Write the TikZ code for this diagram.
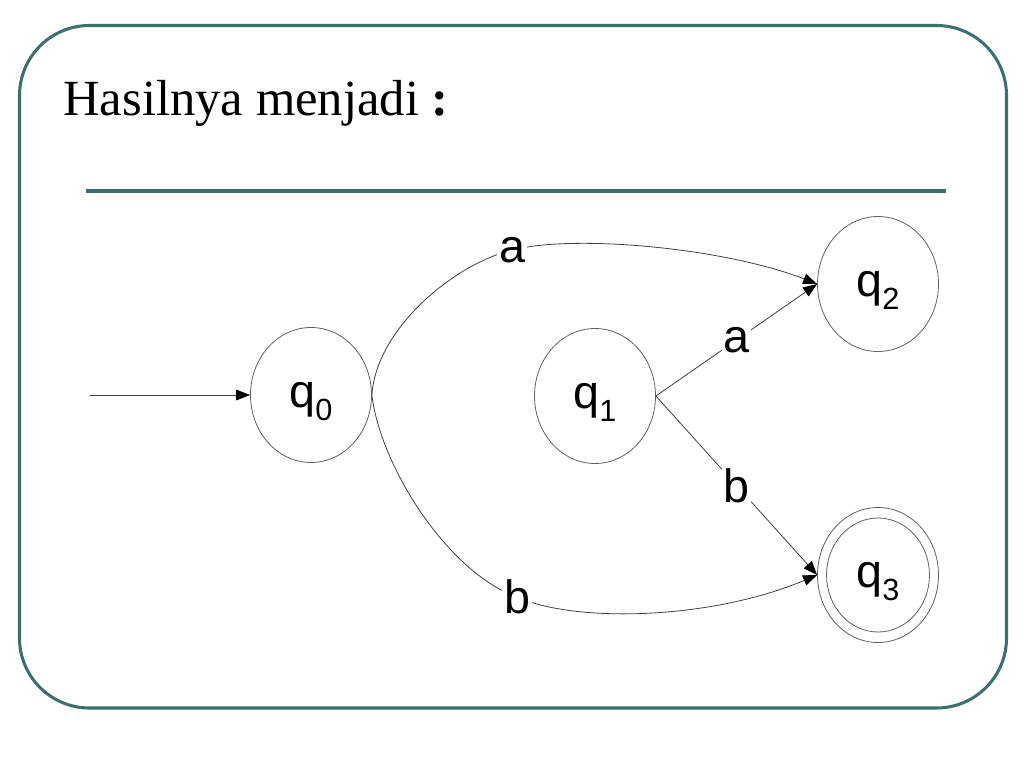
\documentclass[tikz,border=0pt]{standalone}
\usepackage{fontspec}
\setmainfont{Liberation Serif}
\newfontfamily\labfont{Liberation Sans}
\usetikzlibrary{shapes.geometric,arrows.meta}
\definecolor{framecol}{HTML}{3F6E6E}
\definecolor{edgecol}{HTML}{404040}
\definecolor{statecol}{HTML}{606060}
\newcommand\qsub[1]{{\fontsize{23}{23}\selectfont\raisebox{-10pt}{#1}}}
\begin{document}
\begin{tikzpicture}[x=0.75pt,y=-0.75pt,
  state/.style={draw=statecol, line width=0.6pt, ellipse, minimum width=90.75pt,
    minimum height=101.25pt, inner sep=0pt, text height=20pt, text depth=1.2pt,
    font=\labfont\fontsize{35}{35}\selectfont},
  edge/.style={draw=edgecol, line width=0.6pt, -{Triangle[length=10.5pt,width=8pt,color=black]}},
  lab/.style={fill=white, inner sep=1.5pt, font=\labfont\fontsize{35}{35}\selectfont},
  framepen/.style={draw=framecol, line width=2.3pt}]
\useasboundingbox (0,0) rectangle (1024,768);
% frame and rule
\draw[framepen, rounded corners=52.5pt] (19.5,25.5) rectangle (1006.5,708);
\coordinate (ruleL) at (86,191);
\coordinate (ruleR) at (946,191);
\draw[framepen] (ruleL) -- (ruleR);
% title
\node[anchor=base west, inner sep=0pt, font=\fontsize{38}{38}\selectfont] (title) at (63,115) {Hasilnya menjadi \textbf{:}};
% states
\node[state] (q0) at (311,395) {q\qsub{0}};
\node[state] (q1) at (595,396) {q\qsub{1}};
\node[state] (q2) at (878,284) {q\qsub{2}};
\node[state] (q3) at (878,575) {q\qsub{3}};
\draw[statecol, line width=0.6pt] (q3.center) ellipse [x radius=38.6pt, y radius=42.75pt];
% start arrow
\coordinate (start) at (90,395);
\draw[edge] (start) -- (q0.west);
% transitions
\draw[edge] (q0.east) .. controls (376,330) and (452,265) .. (512,250) node[lab] (la) {a}
  .. controls (575,234) and (725,248) .. (q2.west);
\draw[edge] (q0.east) .. controls (380,465) and (447,572) .. (517,597) node[lab] (lb) {b}
  .. controls (575,623) and (710,620) .. (q3.west);
\draw[edge] (q1.east) -- node[lab] (la2) {a} (q2.west);
\draw[edge] (q1.east) -- node[lab] (lb2) {b} (q3.west);
\end{tikzpicture}
\end{document}
